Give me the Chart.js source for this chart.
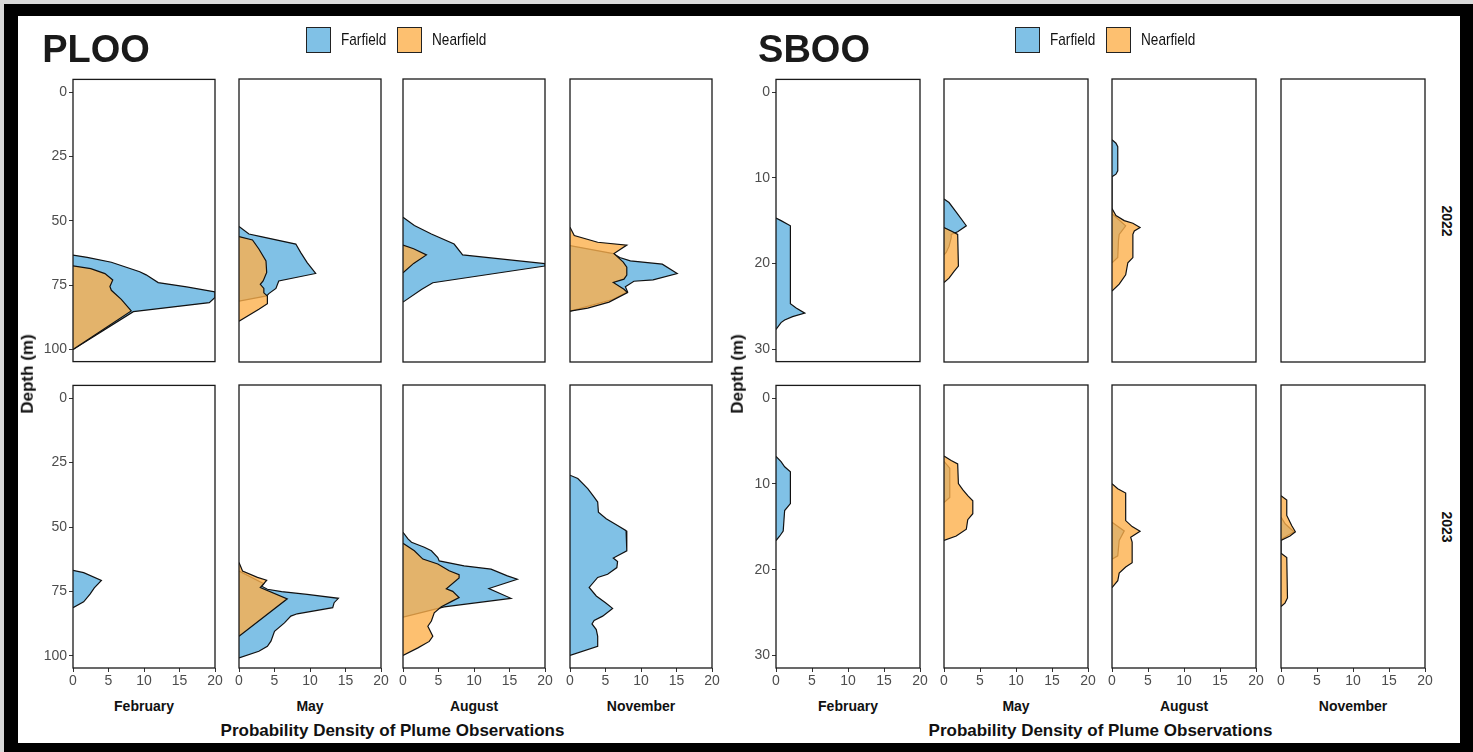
<!DOCTYPE html>
<html>
<head>
<meta charset="utf-8">
<script src="https://cdn.jsdelivr.net/npm/chart.js@4.4.1/dist/chart.umd.min.js"></script>
<style>
  html, body { margin: 0; padding: 0; }
  body { width: 1473px; height: 752px; position: relative; overflow: hidden; background: #d9d9d9; font-family: 'Liberation Sans', Arial, sans-serif; }
  #frame { position: absolute; left: 4px; top: 4px; width: 1469px; height: 748px; background: #000; }
  #sheet { position: absolute; left: 18px; top: 16px; width: 1442px; height: 727px; background: #fff; }
  canvas { position: absolute; }
  .t { position: absolute; white-space: nowrap; transform: translate(-50%, -50%); color: #111; line-height: 1.2; }
  .l { position: absolute; white-space: nowrap; transform-origin: 0 50%; transform: translateY(-50%) scaleX(0.8); color: #111; line-height: 1.2;
       font-family: 'Liberation Sans', Arial, sans-serif; font-size: 17px; }
  .key { position: absolute; box-sizing: border-box; border: 1.3px solid #222; }
</style>
</head>
<body>
<div id="frame"></div>
<div id="sheet"></div>
<script>
// ---- data: each profile is a list of [density, depth] points ----
const months = ['February', 'May', 'August', 'November'];
const years = ['2022', '2023'];
const seriesNames = ['Farfield', 'Nearfield'];
const densityTicks = [0, 5, 10, 15, 20];
const plooDepthTicks = [0, 25, 50, 75, 100];
const sbooDepthTicks = [0, 10, 20, 30];

// PLOO 2022
const ploo22FebFar = [[0, 63.3], [2, 64.2], [5.4, 66.1], [9.4, 69.8], [10.3, 71], [12, 74], [16, 75.7], [20, 77.6], [20, 79.8], [19.2, 81.8], [8.5, 85.3], [0, 100]];
const ploo22FebNear = [[0, 67.5], [2.5, 68.6], [4.5, 70.5], [5.6, 73], [5.2, 75.5], [5.4, 77], [6.8, 80.5], [8.2, 85], [0, 100]];
const ploo22MayFar = [[0, 52.2], [1.4, 55.1], [3.1, 56.1], [8, 59], [8.7, 62.3], [9.6, 66.2], [10.8, 70.4], [5.6, 73.3], [5.2, 76.2], [4.2, 78.2], [3.9, 79.1], [0, 81.1]];
const ploo22MayNear = [[0, 56.1], [1.9, 57.4], [2.8, 60.9], [3.8, 65.5], [3.9, 70], [3.4, 73.3], [3, 74.6], [3.5, 76.2], [3.5, 77.9], [4, 79.1], [4, 82.1], [2.8, 84.3], [0, 88.9]];
const ploo22AugFar = [[0, 48.6], [1.6, 51.8], [4, 55.1], [7.2, 59], [8.4, 63.2], [20, 66.6], [20, 67.5], [4.2, 74], [2.6, 76.6], [0, 81.5]];
const ploo22AugNear = [[0, 59.4], [1.5, 60.8], [3.3, 63.2], [1.5, 66.5], [0, 70.1]];
const ploo22NovFar = [[0, 59.6], [6.1, 62.7], [7, 64.2], [8.5, 65.5], [13, 66.8], [15.1, 70.4], [11.7, 72.9], [9, 73.4], [7.8, 75.5], [8.1, 77.5], [6, 80.5], [0, 85]];
const ploo22NovNear = [[0, 52.5], [0.6, 55.7], [3.9, 58.3], [8, 59.4], [6.2, 62.7], [7.5, 66], [8, 68], [8, 71], [7.6, 72.6], [6.1, 73.9], [7.6, 76.5], [8.1, 77.8], [5.5, 81.5], [2.5, 83.8], [0, 85]];

// PLOO 2023
const ploo23FebFar = [[0, 66.8], [1.5, 67.7], [4, 70.7], [3, 73.6], [2.4, 76], [1.5, 79], [0, 81.3]];
const ploo23FebNear = [];
const ploo23MayFar = [[0, 67.1], [3.5, 72], [3.2, 73], [4, 74.2], [6, 75.1], [9.6, 76.2], [14, 77.7], [13.4, 79.4], [13.2, 81.3], [8.2, 83.7], [7.3, 84.6], [6.4, 87.2], [5, 90.5], [4.5, 94.3], [4, 96.3], [2.8, 98.2], [0, 100.8]];
const ploo23MayNear = [[0, 63.8], [0.5, 67.1], [2.6, 69.6], [3.9, 70.7], [3.5, 72], [3, 73.5], [6.8, 77.9], [0, 92.4]];
const ploo23AugFar = [[0, 52.1], [0.7, 54.7], [1.2, 56], [3, 57.9], [4, 59.3], [4.9, 61.9], [5.1, 63.2], [8.6, 65.1], [12.4, 66.4], [14.7, 69], [16.1, 70.3], [12.1, 73.9], [15.2, 77.7], [5.8, 81], [0, 85]];
const ploo23AugNear = [[0, 56.4], [1.6, 59.3], [2.8, 62.5], [4.9, 64.4], [6.5, 67], [7.9, 68.5], [7.9, 69.8], [6.1, 74], [7, 75], [7.9, 77.4], [7, 78.7], [5.4, 81], [4.4, 83.3], [4, 86.5], [3.5, 88.5], [4.2, 92.4], [3.7, 94.4], [2.1, 96.9], [0, 99.8]];
const ploo23NovFar = [[0, 30], [1.1, 31.3], [2.5, 35.2], [3.4, 38.5], [3.9, 40.4], [4, 44.3], [5.1, 46.9], [6.7, 49.5], [7.9, 51.5], [8, 59.3], [6.1, 62.1], [6.7, 63.4], [6.6, 65.8], [5.3, 68.4], [3.9, 69.6], [2.7, 73.5], [3.7, 76.8], [5, 79.4], [6, 81.6], [4.6, 84.6], [3.4, 86.3], [3.1, 87.6], [3.7, 89.8], [3.9, 92.4], [3.9, 96.3], [0, 99.8]];
const ploo23NovNear = [];

// SBOO 2022
const sboo22FebFar = [[0, 14.7], [0.7, 15], [2, 15.6], [2, 24.7], [2.8, 25.2], [4, 25.8], [2.3, 26.2], [1.2, 26.6], [0.7, 26.9], [0, 27.7]];
const sboo22FebNear = [];
const sboo22MayFar = [[0, 12.5], [0.7, 12.9], [1.7, 14], [3.1, 15.6], [1.9, 16.3], [1, 16.6], [1, 17], [0.7, 18], [0.3, 18.7], [0, 19]];
const sboo22MayNear = [[0, 15.8], [1, 16.2], [1.9, 16.6], [2, 20.3], [1.4, 20.9], [0.7, 21.7], [0, 22.2]];
const sboo22AugFar = [[0, 5.6], [0.55, 6], [0.8, 6.4], [0.8, 9.2], [0.55, 9.6], [0, 9.9], [0, 14.2], [1.9, 15.6], [1, 16.6], [0.9, 17.3], [0.8, 19.3], [0, 19.9]];
const sboo22AugNear = [[0, 13.6], [0.55, 14.4], [1.7, 15], [2.9, 15.3], [3.9, 15.8], [3.1, 16.2], [2.9, 16.6], [2.9, 19.3], [2.2, 19.9], [1.9, 21.3], [1, 22.4], [0, 23.2]];
const sboo22NovFar = [];
const sboo22NovNear = [];

// SBOO 2023
const sboo23FebFar = [[0, 6.8], [0.7, 7.4], [1.2, 8], [2, 8.6], [2, 12.3], [1.2, 13.1], [1, 15.5], [0.5, 16.1], [0, 16.6]];
const sboo23FebNear = [];
const sboo23MayFar = [[0, 7.4], [0.8, 8.2], [0.8, 11.6], [0, 12.2]];
const sboo23MayNear = [[0, 6.8], [1, 7.3], [1.9, 7.7], [2, 10], [2.6, 10.7], [3.3, 11.4], [4, 12], [4, 13.5], [3.3, 14.2], [3.1, 15.3], [1.7, 16.1], [0, 16.6]];
const sboo23AugFar = [[0, 14.5], [1.7, 15.5], [1, 16.6], [0.8, 18.4], [0, 18.8]];
const sboo23AugNear = [[0, 10], [0.8, 10.6], [1.9, 11.1], [1.9, 14.3], [2.8, 15], [3.9, 15.55], [2.6, 16.25], [2.8, 16.8], [2.8, 19.2], [1.9, 19.7], [1, 20.4], [0.8, 21.3], [0, 22.1]];
const sboo23NovFar = [[0, 13.9], [0.6, 14.7], [1.8, 15.6], [0, 16.5]];
const sboo23NovNear = [[0, 11.4], [0.8, 11.9], [0.8, 13.7], [1.5, 14.9], [2, 15.6], [1.25, 16.1], [0, 16.6], [0, 18.1], [0.8, 18.6], [0.9, 23.3], [0.55, 23.9], [0, 24.3]];

// ---- layout / style ----
const FAR_FILL = 'rgba(96, 178, 224, 0.8)';
const NEAR_FILL = 'rgba(252, 176, 76, 0.8)';
const FAR_KEY = 'rgb(128, 193, 230)';
const NEAR_KEY = 'rgb(253, 192, 112)';
const YAXW = 40, XAXH = 22, PAD = 10;
const ROW_TOP = [79, 385];
const PANEL_H = 283;
const TICK_FONT = { family: "'Liberation Sans', Arial, sans-serif", size: 14 };

const sites = [
  {
    name: 'PLOO', lefts: [73, 239, 403, 570], width: 142, depthTicks: plooDepthTicks, yMin: -4.95, yMax: 104.7,
    titleX: 96, yTitleX: 28, strips: false,
    keyX: [306, 397], keyTextX: [341, 432],
    panels: [
      [[ploo22FebFar, ploo22FebNear], [ploo22MayFar, ploo22MayNear], [ploo22AugFar, ploo22AugNear], [ploo22NovFar, ploo22NovNear]],
      [[ploo23FebFar, ploo23FebNear], [ploo23MayFar, ploo23MayNear], [ploo23AugFar, ploo23AugNear], [ploo23NovFar, ploo23NovNear]]
    ]
  },
  {
    name: 'SBOO', lefts: [776, 944, 1112, 1281], width: 144, depthTicks: sbooDepthTicks, yMin: -1.475, yMax: 31.45,
    titleX: 814, yTitleX: 738, strips: true,
    keyX: [1015, 1106], keyTextX: [1050, 1141],
    panels: [
      [[sboo22FebFar, sboo22FebNear], [sboo22MayFar, sboo22MayNear], [sboo22AugFar, sboo22AugNear], [sboo22NovFar, sboo22NovNear]],
      [[sboo23FebFar, sboo23FebNear], [sboo23MayFar, sboo23MayNear], [sboo23AugFar, sboo23AugNear], [sboo23NovFar, sboo23NovNear]]
    ]
  }
];

const panelBorder = {
  id: 'panelBorder',
  afterDatasetsDraw(chart) {
    const a = chart.chartArea, ctx = chart.ctx;
    ctx.save();
    ctx.strokeStyle = '#1a1a1a';
    ctx.lineWidth = 1.3;
    ctx.strokeRect(a.left, a.top, a.right - a.left, a.bottom - a.top);
    ctx.restore();
  }
};

function toXY(points) {
  return points.map(p => ({ x: p[0], y: p[1] }));
}

function addText(x, y, str, css, cls) {
  const d = document.createElement('div');
  d.className = cls || 't';
  d.textContent = str;
  d.style.left = x + 'px';
  d.style.top = y + 'px';
  Object.assign(d.style, css || {});
  document.body.appendChild(d);
  return d;
}

function addKey(x, y, w, h, color) {
  const d = document.createElement('div');
  d.className = 'key';
  Object.assign(d.style, { left: x + 'px', top: y + 'px', width: w + 'px', height: h + 'px', background: color });
  document.body.appendChild(d);
}

function makePanel(site, row, col) {
  const showY = col === 0;
  const showX = row === 1;
  const left = site.lefts[col] - (showY ? YAXW : PAD);
  const top = ROW_TOP[row] - PAD;
  const w = site.width + (showY ? YAXW : PAD) + PAD;
  const h = PANEL_H + PAD + (showX ? XAXH : PAD);

  const canvas = document.createElement('canvas');
  canvas.width = w;
  canvas.height = h;
  canvas.style.left = left + 'px';
  canvas.style.top = top + 'px';
  canvas.style.width = w + 'px';
  canvas.style.height = h + 'px';
  document.body.appendChild(canvas);

  const pair = site.panels[row][col];
  const axisStyle = {
    grid: { display: true, drawOnChartArea: false, drawTicks: true, tickLength: 4, color: '#333', lineWidth: 1 },
    border: { display: false }
  };

  new Chart(canvas, {
    type: 'line',
    data: {
      datasets: [
        { label: seriesNames[0], data: toXY(pair[0]), order: 2, fill: 'shape', backgroundColor: FAR_FILL,
          borderColor: '#111', borderWidth: 1.2, pointRadius: 0, tension: 0 },
        { label: seriesNames[1], data: toXY(pair[1]), order: 1, fill: 'shape', backgroundColor: NEAR_FILL,
          borderColor: '#111', borderWidth: 1.2, pointRadius: 0, tension: 0 }
      ]
    },
    options: {
      responsive: false,
      animation: false,
      devicePixelRatio: 1,
      layout: { padding: { left: showY ? 0 : PAD, right: PAD, top: PAD, bottom: showX ? 0 : PAD } },
      plugins: { legend: { display: false }, tooltip: { enabled: false } },
      scales: {
        x: Object.assign({
          type: 'linear', min: 0, max: 20, display: showX,
          afterBuildTicks: s => { s.ticks = densityTicks.map(v => ({ value: v })); },
          afterFit: s => { if (showX) s.height = XAXH; },
          ticks: { padding: 1, color: '#4d4d4d', font: TICK_FONT, maxRotation: 0, autoSkip: false }
        }, axisStyle),
        y: Object.assign({
          type: 'linear', reverse: true, min: site.yMin, max: site.yMax, display: showY,
          afterBuildTicks: s => { s.ticks = site.depthTicks.map(v => ({ value: v })); },
          afterFit: s => { if (showY) s.width = YAXW; },
          ticks: { padding: 2, color: '#4d4d4d', font: TICK_FONT, autoSkip: false }
        }, axisStyle)
      }
    },
    plugins: [panelBorder]
  });
}

sites.forEach(site => {
  for (let row = 0; row < 2; row++) {
    for (let col = 0; col < 4; col++) makePanel(site, row, col);
  }

  // site title
  addText(site.titleX, 50, site.name, { fontWeight: 'bold', fontSize: '38px', color: '#1a1a1a' });

  // legend
  addKey(site.keyX[0], 27, 25, 26, FAR_KEY);
  addText(site.keyTextX[0], 40, seriesNames[0], null, 'l');
  addKey(site.keyX[1], 27, 25, 26, NEAR_KEY);
  addText(site.keyTextX[1], 40, seriesNames[1], null, 'l');

  // month labels and x title
  months.forEach((m, i) => {
    addText(site.lefts[i] + site.width / 2, 706, m, { fontWeight: 'bold', fontSize: '14px' });
  });
  const midX = (site.lefts[0] + site.lefts[3] + site.width) / 2;
  addText(midX, 731, 'Probability Density of Plume Observations', { fontWeight: 'bold', fontSize: '17px' });

  // y title
  addText(site.yTitleX, (ROW_TOP[0] + ROW_TOP[1] + PANEL_H) / 2, 'Depth (m)',
    { fontWeight: 'bold', fontSize: '17px', transform: 'translate(-50%, -50%) rotate(-90deg)' });

  // year strips
  if (site.strips) {
    years.forEach((y, r) => {
      addText(1447, ROW_TOP[r] + PANEL_H / 2, y,
        { fontWeight: 'bold', fontSize: '14px', transform: 'translate(-50%, -50%) rotate(90deg)' });
    });
  }
});
</script>
</body>
</html>
